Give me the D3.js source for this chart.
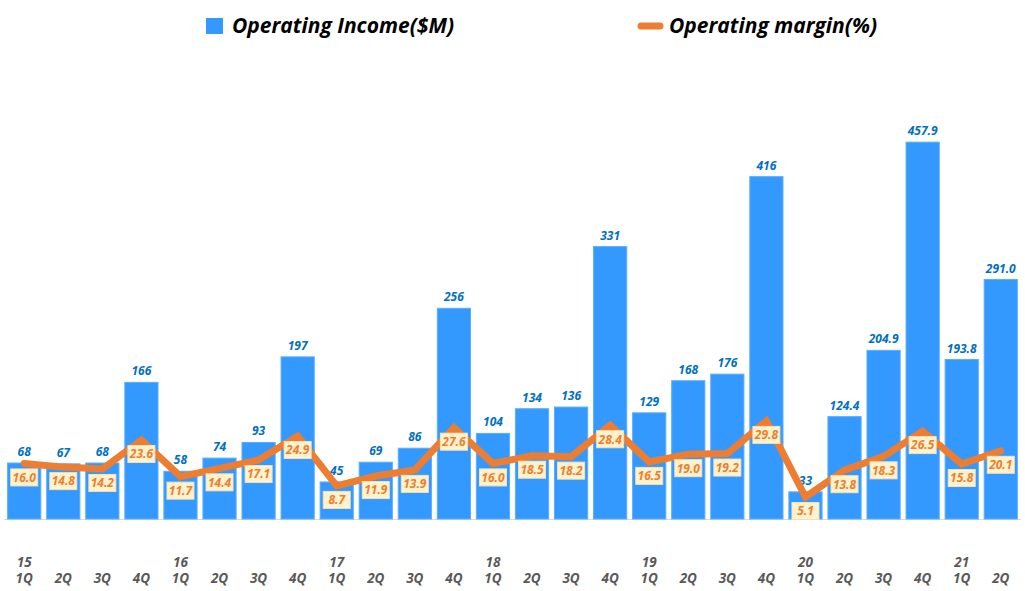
<!DOCTYPE html>
<html>
<head>
<meta charset="utf-8">
<script src="https://cdn.jsdelivr.net/npm/d3@7"></script>
<style>
  body { margin: 0; background: #fff; }
  text { font-family: "Open Sans", "Noto Sans", sans-serif; font-weight: bold; font-style: italic; }
</style>
</head>
<body>
<script>
const years = ["15", "", "", "", "16", "", "", "", "17", "", "", "", "18", "", "", "", "19", "", "", "", "20", "", "", "", "21", ""]
const quarters = ["1Q", "2Q", "3Q", "4Q", "1Q", "2Q", "3Q", "4Q", "1Q", "2Q", "3Q", "4Q", "1Q", "2Q", "3Q", "4Q",
  "1Q", "2Q", "3Q", "4Q", "1Q", "2Q", "3Q", "4Q", "1Q", "2Q"]
const income = [68, 67, 68, 166, 58, 74, 93, 197, 45, 69, 86, 256, 104, 134, 136, 331,
  129, 168, 176, 416, 33, 124.4, 204.9, 457.9, 193.8, 291.0]
const incomeLabels = ["68", "67", "68", "166", "58", "74", "93", "197", "45", "69", "86", "256", "104", "134", "136", "331",
  "129", "168", "176", "416", "33", "124.4", "204.9", "457.9", "193.8", "291.0"]
const margin = [16.0, 14.8, 14.2, 23.6, 11.7, 14.4, 17.1, 24.9, 8.7, 11.9, 13.9, 27.6, 16.0, 18.5, 18.2, 28.4,
  16.5, 19.0, 19.2, 29.8, 5.1, 13.8, 18.3, 26.5, 15.8, 20.1]

const width = 1025, height = 591
const idx = d3.range(income.length)

const svg = d3.select("body").append("svg")
  .attr("width", width)
  .attr("height", height)

const x = d3.scaleBand().domain(idx).range([4.5, 1020.5]).paddingInner(0.15).paddingOuter(0.08)
const y = d3.scaleLinear().domain([0, 500]).range([519, 107.5])
const y2 = d3.scaleLinear().domain([0, 100]).range([512.7, 204.7])

// baseline
svg.append("line")
  .attr("x1", 4).attr("x2", 1021)
  .attr("y1", y(0) + 0.5).attr("y2", y(0) + 0.5)
  .attr("stroke", "#d9d9d9")

// bars
svg.selectAll("rect.bar")
  .data(idx)
  .enter()
    .append("rect")
    .attr("class", "bar")
    .attr("x", (i) => x(i))
    .attr("y", (i) => y(income[i]))
    .attr("width", x.bandwidth())
    .attr("height", (i) => y(0) - y(income[i]))
    .attr("fill", "#3399ff")
    .attr("stroke", "#5aaeff")
    .attr("stroke-width", 1)

svg.selectAll("text.val")
  .data(idx)
  .enter()
    .append("text")
    .attr("class", "val")
    .attr("x", (i) => x(i) + x.bandwidth() / 2)
    .attr("y", (i) => y(income[i]) - 7)
    .attr("text-anchor", "middle")
    .attr("font-size", 12)
    .attr("fill", "#0070c0")
    .text((i) => incomeLabels[i])

// margin line
const line = d3.line()
  .x((i) => x(i) + x.bandwidth() / 2)
  .y((i) => y2(margin[i]))

svg.append("path")
  .datum(idx)
  .attr("d", line)
  .attr("fill", "none")
  .attr("stroke", "#ed7d31")
  .attr("stroke-width", 7)
  .attr("stroke-linejoin", "miter")
  .attr("stroke-linecap", "round")

const mlab = svg.selectAll("g.mlab")
  .data(idx)
  .enter()
    .append("g")
    .attr("class", "mlab")
    .attr("transform", (i) => `translate(${x(i) + x.bandwidth() / 2},${y2(margin[i]) + 14})`)

mlab.append("rect")
  .attr("x", -13.5).attr("y", -8.5)
  .attr("width", 27).attr("height", 17)
  .attr("fill", "#fff2cc")
  .attr("stroke", "#f2e2b8")

mlab.append("text")
  .attr("text-anchor", "middle")
  .attr("dy", "0.36em")
  .attr("font-size", 12)
  .attr("fill", "#ed7d31")
  .text((i) => margin[i].toFixed(1))

// x labels
svg.selectAll("text.yr")
  .data(idx)
  .enter()
    .append("text")
    .attr("class", "yr")
    .attr("x", (i) => x(i) + x.bandwidth() / 2)
    .attr("y", 567)
    .attr("text-anchor", "middle")
    .attr("font-size", 13.5)
    .attr("fill", "#595959")
    .text((i) => years[i])

svg.selectAll("text.qt")
  .data(idx)
  .enter()
    .append("text")
    .attr("class", "qt")
    .attr("x", (i) => x(i) + x.bandwidth() / 2)
    .attr("y", 583)
    .attr("text-anchor", "middle")
    .attr("font-size", 13.5)
    .attr("fill", "#595959")
    .text((i) => quarters[i])

// legend
svg.append("rect")
  .attr("x", 206).attr("y", 18)
  .attr("width", 17).attr("height", 16)
  .attr("fill", "#3399ff")
svg.append("text")
  .attr("x", 232).attr("y", 33)
  .attr("font-size", 21)
  .attr("fill", "#000")
  .text("Operating Income($M)")

svg.append("line")
  .attr("x1", 641).attr("x2", 660)
  .attr("y1", 26).attr("y2", 26)
  .attr("stroke", "#ed7d31")
  .attr("stroke-width", 7)
  .attr("stroke-linecap", "round")
svg.append("text")
  .attr("x", 669).attr("y", 33)
  .attr("font-size", 21)
  .attr("fill", "#000")
  .text("Operating margin(%)")
</script>
</body>
</html>
